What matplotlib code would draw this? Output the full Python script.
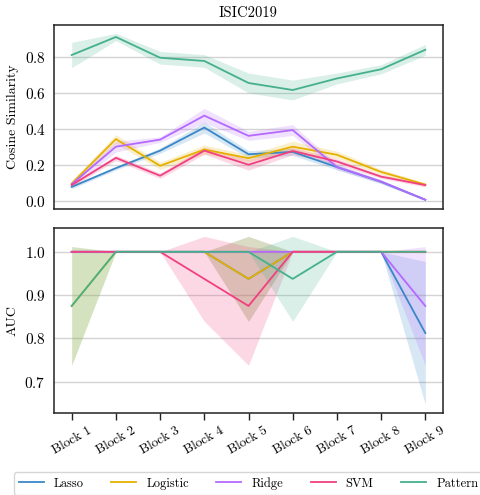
import numpy as np
import matplotlib
matplotlib.use("Agg")
import matplotlib.pyplot as plt

plt.rcParams['font.family'] = ['cmr10', 'DejaVu Serif']
plt.rcParams['mathtext.fontset'] = 'cm'
plt.rcParams['axes.formatter.use_mathtext'] = True

blocks = ["Block 1", "Block 2", "Block 3", "Block 4", "Block 5",
          "Block 6", "Block 7", "Block 8", "Block 9"]
methods = ["Lasso", "Logistic", "Ridge", "SVM", "Pattern"]
colors = ['#3a87c8', '#e6b000', '#b469ff', '#f0407f', '#45b08c']

# cosine similarity (mean, band half-width)
cos_lasso = [0.080, 0.184, 0.281, 0.409, 0.261, 0.274, 0.190, 0.108, 0.009]
cos_logistic = [0.099, 0.345, 0.197, 0.287, 0.239, 0.303, 0.258, 0.163, 0.093]
cos_ridge = [0.095, 0.303, 0.342, 0.475, 0.363, 0.395, 0.190, 0.110, 0.009]
cos_svm = [0.090, 0.241, 0.142, 0.281, 0.203, 0.279, 0.221, 0.137, 0.090]
cos_pattern = [0.811, 0.911, 0.796, 0.778, 0.656, 0.617, 0.681, 0.732, 0.840]

cos_lasso_err = [0.010, 0.010, 0.015, 0.030, 0.020, 0.020, 0.015, 0.010, 0.005]
cos_logistic_err = [0.015, 0.025, 0.020, 0.025, 0.020, 0.030, 0.020, 0.015, 0.010]
cos_ridge_err = [0.015, 0.030, 0.015, 0.040, 0.025, 0.030, 0.015, 0.010, 0.005]
cos_svm_err = [0.010, 0.015, 0.015, 0.020, 0.030, 0.020, 0.015, 0.010, 0.010]
cos_pattern_err = [0.070, 0.020, 0.035, 0.035, 0.055, 0.055, 0.030, 0.025, 0.030]

# AUC (mean, band half-width)
auc_lasso = [1.0, 1.0, 1.0, 1.0, 0.9375, 1.0, 1.0, 1.0, 0.8125]
auc_logistic = [0.875, 1.0, 1.0, 1.0, 0.9375, 1.0, 1.0, 1.0, 1.0]
auc_ridge = [1.0, 1.0, 1.0, 1.0, 1.0, 1.0, 1.0, 1.0, 0.875]
auc_svm = [1.0, 1.0, 1.0, 0.9375, 0.875, 1.0, 1.0, 1.0, 1.0]
auc_pattern = [0.875, 1.0, 1.0, 1.0, 1.0, 0.9375, 1.0, 1.0, 1.0]

auc_lasso_err = [0, 0, 0, 0, 0.098, 0, 0, 0, 0.165]
auc_logistic_err = [0.137, 0, 0, 0, 0.098, 0, 0, 0, 0]
auc_ridge_err = [0, 0, 0, 0, 0, 0, 0, 0, 0.137]
auc_svm_err = [0, 0, 0, 0.098, 0.137, 0, 0, 0, 0]
auc_pattern_err = [0.137, 0, 0, 0, 0, 0.098, 0, 0, 0]

cos_data = [(cos_lasso, cos_lasso_err), (cos_logistic, cos_logistic_err),
            (cos_ridge, cos_ridge_err), (cos_svm, cos_svm_err),
            (cos_pattern, cos_pattern_err)]
auc_data = [(auc_lasso, auc_lasso_err), (auc_logistic, auc_logistic_err),
            (auc_ridge, auc_ridge_err), (auc_svm, auc_svm_err),
            (auc_pattern, auc_pattern_err)]

x = np.arange(len(blocks))

fig = plt.figure(figsize=(4.81, 4.95), dpi=100)
ax1 = fig.add_axes([0.1123, 0.5778, 0.8087, 0.3717])
ax2 = fig.add_axes([0.1123, 0.1657, 0.8087, 0.3737], sharex=ax1)

for ax, data in [(ax1, cos_data), (ax2, auc_data)]:
    for (m, e), c, name in zip(data, colors, methods):
        m = np.array(m)
        e = np.array(e)
        ax.fill_between(x, m - e, m + e, color=c, alpha=0.2, linewidth=0)
        ax.plot(x, m, color=c, lw=1.3, label=name)
    ax.grid(axis='y', color='#d3d3d3', lw=1)
    ax.set_axisbelow(True)
    for s in ax.spines.values():
        s.set_color('#222222')
        s.set_linewidth(1.1)
    ax.tick_params(axis='y', length=0, labelsize=11, pad=6)

ax1.tick_params(axis='x', length=0, labelbottom=False)
ax2.tick_params(axis='x', length=5, width=1, labelsize=9.5, color='#222222')
ax2.set_xticks(x)
ax2.set_xticklabels(blocks, rotation=30)

ax1.set_title("ISIC2019", fontsize=10.5)
ax1.set_ylabel("Cosine Similarity", fontsize=10)
ax2.set_ylabel("AUC", fontsize=10)
ax1.set_yticks([0.0, 0.2, 0.4, 0.6, 0.8])
ax2.set_yticks([0.7, 0.8, 0.9, 1.0])

ax2.legend(loc='upper center', bbox_to_anchor=(0.5, -0.32), ncol=5,
           fontsize=9, frameon=True, edgecolor='#cccccc', handlelength=2.0,
           handletextpad=0.8, columnspacing=2.2, borderpad=0.4,
           borderaxespad=0)

fig.savefig("out.png", dpi=100)
